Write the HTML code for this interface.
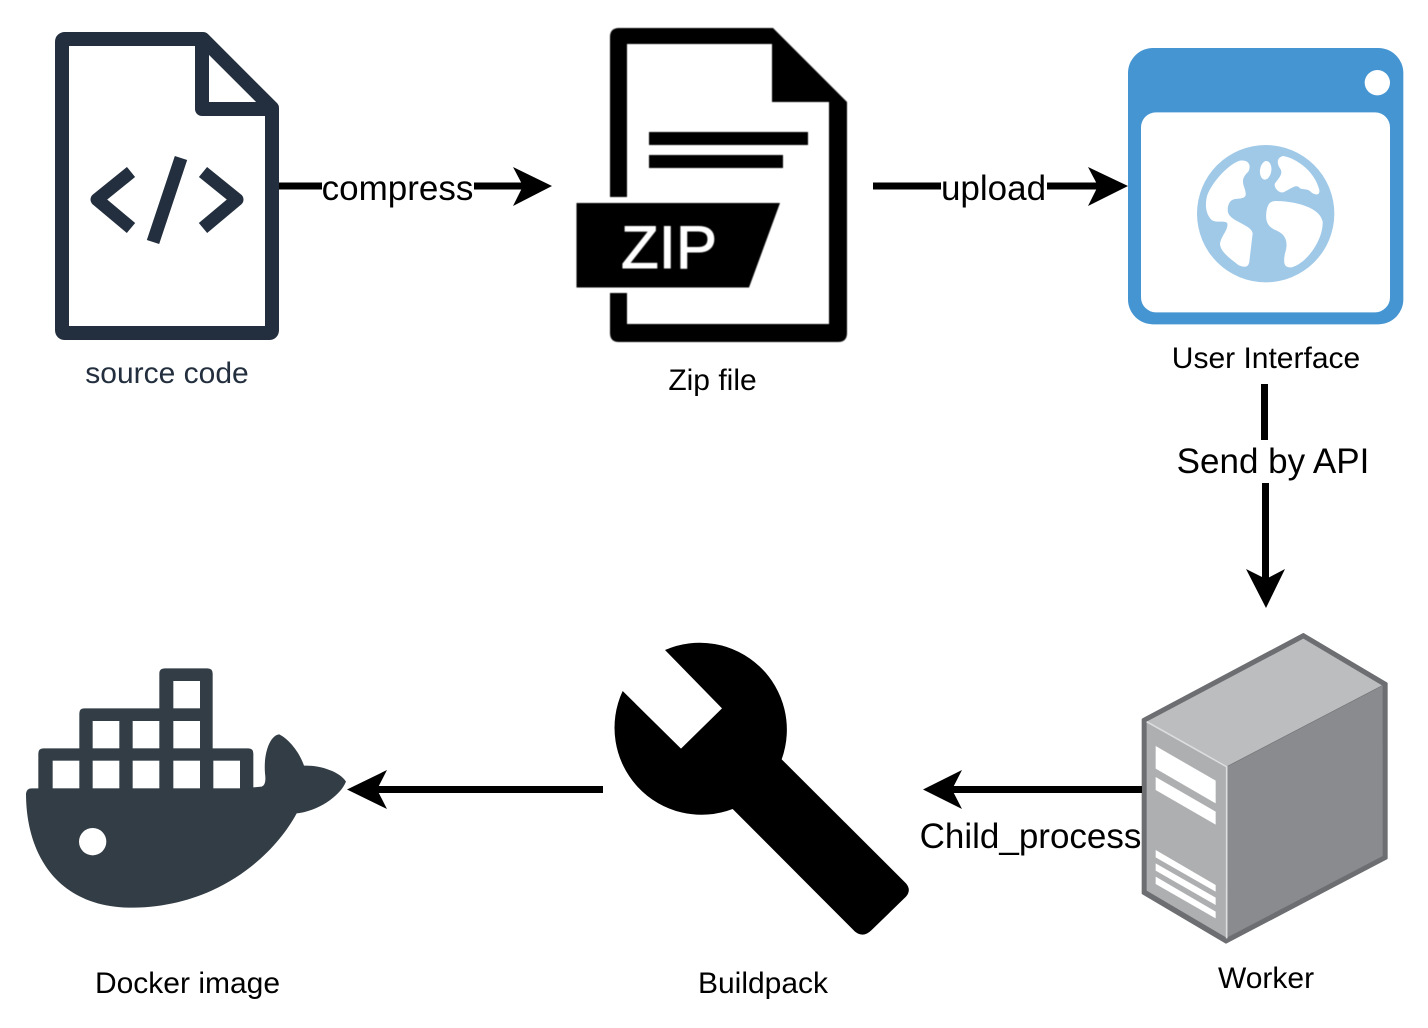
<!DOCTYPE html>
<html><head><meta charset="utf-8"><style>
html,body{margin:0;padding:0;background:#fff;width:1428px;height:1028px;overflow:hidden}
svg{display:block}
text{font-family:"Liberation Sans",Arial,sans-serif;fill:#000}
.soft{filter:blur(.5px)}
</style></head><body>
<svg width="1428" height="1028" viewBox="0 0 1428 1028" xmlns="http://www.w3.org/2000/svg">
<rect width="1428" height="1028" fill="#fff"/>

<!-- source code -->
<g fill="none" stroke="#232f3e" stroke-width="14" stroke-linejoin="round">
<path d="M65 39H203L272 108V330Q272 333 269 333H65Q62 333 62 330V42Q62 39 65 39Z"/>
<path d="M202 39V109H272"/>
<path d="M131 172L97 199.500L131 228" stroke-width="13"/>
<path d="M203 172L237 199.500L203 228" stroke-width="13"/>
<path d="M181 158L153 242" stroke-width="13" stroke-linejoin="miter"/>
</g>
<text x="167" y="383" font-size="30" text-anchor="middle" style="fill:#232f3e">source code</text>

<!-- zip -->
<g class="soft">
<path fill="#000" fill-rule="evenodd" d="M619 28H773L847 102V333Q847 342 838 342H619Q610 342 610 333V37Q610 28 619 28ZM627 44V324H829V102H772V44Z"/>
<rect x="605" y="197" width="30" height="96" fill="#fff"/>
<polygon points="576.5,203 780,203 749,287.500 576.5,287.500" fill="#000"/>
<rect x="649" y="132" width="159" height="13" fill="#000"/>
<rect x="649" y="155" width="134" height="13" fill="#000"/>
<text x="621" y="268" font-size="60" textLength="96" lengthAdjust="spacingAndGlyphs" style="fill:#fff;stroke:#fff;stroke-width:1">ZIP</text>
</g>
<text x="712.500" y="390" font-size="30" text-anchor="middle">Zip file</text>

<!-- user interface -->
<g transform="translate(1120 40) scale(.33333)">
<rect x="24" y="24" width="826" height="829" rx="75" fill="#4595d2"/>
<rect x="63" y="217" width="747" height="600" rx="45" fill="#fff"/>
<circle cx="772" cy="128" r="38" fill="#fff"/>
<circle cx="437" cy="521" r="206" fill="#a0c9e8"/>
<g fill="#fff">
<path d="M360 362C385 358 395 375 385 395C370 410 365 420 372 440C382 470 380 475 345 477C325 480 320 505 325 520C335 545 395 555 398 580L388 665C385 685 370 682 355 675C330 655 300 635 300 610C305 585 325 570 322 550C315 540 290 550 275 540C255 520 255 490 262 465C280 420 330 370 360 362Z"/>
<ellipse cx="437" cy="391" rx="17" ry="28" transform="rotate(8 437 391)"/>
<path d="M490 348C530 355 585 395 598 450C600 468 585 465 575 458C565 445 555 450 540 445C530 430 515 445 490 457C475 460 460 440 465 430C480 410 490 400 480 385C470 370 470 352 490 348Z"/>
<path d="M465 483C520 483 600 500 608 545C610 600 560 670 515 682C490 685 490 665 495 640C505 610 500 585 470 572C440 560 435 540 440 510C445 490 450 485 465 483Z"/>
</g>
</g>
<text x="1266" y="368" font-size="30" text-anchor="middle">User Interface</text>

<!-- server -->
<g transform="translate(1120 620) scale(.33333)">
<polygon points="550,42 800,190 800,715 318,968 68,820 68,298" fill="#6d6e71" stroke="#6d6e71" stroke-width="6" stroke-linejoin="round"/>
<polygon points="550,56 786,196 322,438 80,305" fill="#bcbdbf"/>
<polygon points="322,440 788,197 788,708 322,952" fill="#8a8b8e"/>
<polygon points="80,305 318,440 318,952 80,812" fill="#aeafb1"/>
<path d="M80 305L320 440V955" fill="none" stroke="#dcddde" stroke-width="5"/>
<g fill="#fff">
<polygon points="107,378 287,482 287,550 107,446"/>
<polygon points="107,471 287,575 287,614 107,510"/>
<polygon points="107,690 287,795 287,815 107,712"/>
<polygon points="107,730 287,833 287,855 107,752"/>
<polygon points="107,770 287,875 287,895 107,792"/>
</g>
</g>
<text x="1266" y="988" font-size="30" text-anchor="middle">Worker</text>

<!-- wrench -->
<g class="soft" transform="translate(600 630) scale(.33333)">
<path fill="#000" d="M195 60A261 261 0 0 1 545 388L918 760Q935 780 918 800L815 900Q790 925 765 905L398 537A261 261 0 0 1 68 183L243 356L366 235Z"/>
</g>
<text x="763" y="993" font-size="30" text-anchor="middle">Buildpack</text>

<!-- docker -->
<g class="soft" transform="translate(0 640) scale(.33333)">
<path fill="#333d45" d="M78 460Q80 445 95 445H115V340Q115 325 130 325H238V220Q238 205 252 205H478V100Q478 85 495 85H622Q638 85 638 100V325H745Q760 325 760 340V442L785 440Q800 435 795 400C790 340 810 285 838 283C870 300 900 340 912 377C960 375 1020 395 1038 425C1020 470 950 515 890 520C820 650 650 800 400 803C170 805 78 640 78 460Z"/>
<g fill="#fff">
<rect x="158" y="362" width="80" height="83"/><rect x="278" y="362" width="80" height="83"/><rect x="398" y="362" width="80" height="83"/><rect x="520" y="362" width="80" height="83"/><rect x="640" y="362" width="80" height="83"/>
<rect x="278" y="243" width="80" height="82"/><rect x="398" y="243" width="80" height="82"/><rect x="520" y="243" width="80" height="82"/>
<rect x="520" y="123" width="80" height="82"/>
<circle cx="278" cy="605" r="41"/>
</g>
</g>
<text x="187.500" y="993" font-size="30" text-anchor="middle">Docker image</text>

<!-- connectors -->
<g fill="#000">
<rect x="279" y="182.500" width="43" height="7"/>
<rect x="474" y="182.500" width="50" height="7"/>
<polygon points="552,186 513,167 523,186 513,206"/>
<rect x="873" y="182.500" width="68" height="7"/>
<rect x="1047" y="182.500" width="52" height="7"/>
<polygon points="1128,186 1088,167 1098,186 1088,206"/>
<rect x="1261" y="384" width="7" height="56"/>
<rect x="1262" y="483" width="7" height="98"/>
<polygon points="1266,608 1246,569 1266,579 1285,569"/>
<rect x="952" y="786" width="190" height="7"/>
<polygon points="923,789.500 962,770 952,789.500 962,809"/>
<rect x="377" y="786" width="226" height="7"/>
<polygon points="347,789.500 387,770 377,789.500 387,809"/>
</g>
<g font-size="35">
<text x="397.500" y="200" text-anchor="middle">compress</text>
<text x="993.500" y="200" text-anchor="middle">upload</text>
<text x="1273" y="473" text-anchor="middle">Send by API</text>
<text x="1030.500" y="848" text-anchor="middle">Child_process</text>
</g>
</svg>
</body></html>
